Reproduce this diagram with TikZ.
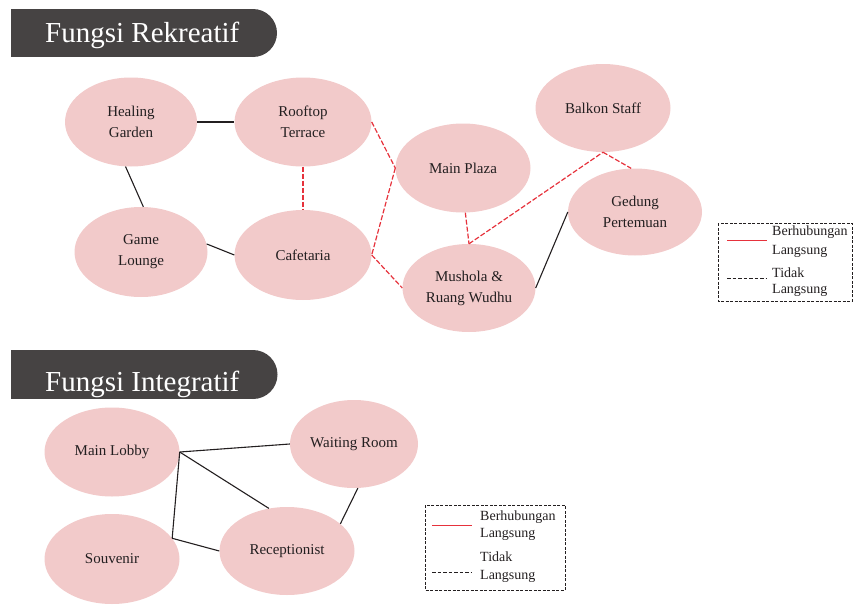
\documentclass[tikz,border=0pt]{standalone}
\usepackage{fontspec}
\setmainfont{Liberation Serif}
\usetikzlibrary{shapes.geometric}
\definecolor{pinkfill}{RGB}{242,202,202}
\definecolor{bannergray}{RGB}{70,67,67}
\definecolor{redline}{RGB}{230,50,60}
\definecolor{txt}{RGB}{35,31,32}
\tikzset{
  room/.style={ellipse, fill=pinkfill, inner sep=0pt, align=center, text=txt,
    font=\fontsize{15}{21}\selectfont},
  direct/.style={draw=redline, line width=1.2pt, dash pattern=on 5pt off 2pt},
  indirect/.style={draw=txt, line width=1.1pt},
  legbox/.style={draw=txt, line width=0.9pt, dash pattern=on 3pt off 1.5pt},
  legtext/.style={anchor=west, inner sep=0pt, text=txt, font=\fontsize{14}{16}\selectfont},
  banner/.style={fill=bannergray},
  bannertext/.style={anchor=base west, inner sep=0pt, text=white, font=\fontsize{29}{31}\selectfont}
}
\begin{document}
\begin{tikzpicture}[x=1pt,y=-1pt]
\useasboundingbox (0,0) rectangle (854,605);

% Banner 1
\fill[banner] (11,9) rectangle (253,57);
\fill[banner] (253,33) circle (24);
\node[bannertext] (t1) at (45,42) {Fungsi Rekreatif};

% Banner 2
\fill[banner] (11,350) rectangle (253,399);
\fill[banner] (253,374.5) circle (24.5);
\node[bannertext] (t2) at (45,391) {Fungsi Integratif};

% Rekreatif nodes
\node[room, minimum width=132pt, minimum height=89pt] (hg) at (131,122) {Healing\\Garden};
\node[room, minimum width=137pt, minimum height=89pt] (rt) at (303,122) {Rooftop\\Terrace};
\node[room, minimum width=133pt, minimum height=90pt] (gl) at (141,252) {Game\\Lounge};
\node[room, minimum width=137pt, minimum height=90pt] (cf) at (303,255) {Cafetaria};
\node[room, minimum width=135pt, minimum height=89pt] (mp) at (463,168) {Main Plaza};
\node[room, minimum width=133pt, minimum height=88pt] (mu) at (469,288) {Mushola \&\\Ruang Wudhu};
\node[room, minimum width=135pt, minimum height=88pt] (bs) at (603,108) {Balkon Staff};
\node[room, minimum width=134pt, minimum height=87pt] (gp) at (635,212) {Gedung\\Pertemuan};

% Rekreatif connectors
\draw[indirect] (hg.east) -- (rt.west);
\draw[indirect] (hg.-97) -- (gl.87);
\draw[indirect] (gl.7) -- (cf.west);
\draw[direct] (rt.south) -- (cf.north);
\draw[direct] (rt.east) -- (mp.west);
\draw[direct] (mp.west) -- (cf.east);
\draw[direct] (cf.east) -- (mu.west);
\draw[direct] (mp.-87) -- (mu.north);
\draw[direct] (mu.north) -- (bs.south);
\draw[direct] (bs.south) -- (gp.95);
\draw[indirect] (mu.east) -- (gp.west);

% Legend 1
\draw[legbox] (718,223) rectangle (852,301);
\coordinate (l1a) at (727,240);
\coordinate (l1b) at (767,240);
\coordinate (l1c) at (727,278);
\coordinate (l1d) at (767,278);
\draw[draw=redline, line width=1pt] (l1a) -- (l1b);
\draw[draw=txt, line width=1pt, dash pattern=on 3.5pt off 2pt] (l1c) -- (l1d);
\node[legtext] (l1t1) at (772,232) {Berhubungan};
\node[legtext] (l1t2) at (772,251) {Langsung};
\node[legtext] (l1t3) at (772,273) {Tidak};
\node[legtext] (l1t4) at (772,290) {Langsung};

% Integratif nodes
\node[room, minimum width=135pt, minimum height=89pt] (ml) at (112,452) {Main Lobby};
\node[room, minimum width=128pt, minimum height=88pt] (wr) at (354,444) {Waiting Room};
\node[room, minimum width=135pt, minimum height=90pt] (sv) at (112,559) {Souvenir};
\node[room, minimum width=135pt, minimum height=88pt] (rc) at (287,551) {Receptionist};

% Integratif connectors
\draw[indirect] (ml.east) -- (wr.west);
\draw[indirect] (ml.east) -- (rc.113);
\draw[indirect] (ml.east) -- (sv.19);
\draw[indirect] (sv.19) -- (rc.west);
\draw[indirect] (wr.-85) -- (rc.27);

% Legend 2
\draw[legbox] (425,505) rectangle (565,590);
\coordinate (l2a) at (432,525);
\coordinate (l2b) at (472,525);
\coordinate (l2c) at (432,572);
\coordinate (l2d) at (472,572);
\draw[draw=redline, line width=1pt] (l2a) -- (l2b);
\draw[draw=txt, line width=1pt, dash pattern=on 3.5pt off 2pt] (l2c) -- (l2d);
\node[legtext] (l2t1) at (480,517) {Berhubungan};
\node[legtext] (l2t2) at (480,534) {Langsung};
\node[legtext] (l2t3) at (480,557) {Tidak};
\node[legtext] (l2t4) at (480,576) {Langsung};
\end{tikzpicture}
\end{document}
